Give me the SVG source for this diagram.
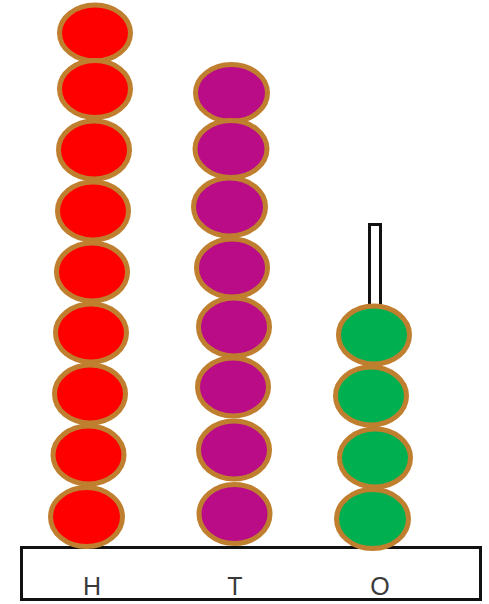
<svg xmlns="http://www.w3.org/2000/svg" width="489" height="604" viewBox="0 0 489 604">
<style>
.bead{stroke:#BF7F2E;stroke-width:5}
.r{fill:#FF0000}
.p{fill:#B90C86}
.g{fill:#00B050}
.lbl{font-family:"Liberation Sans",Arial,sans-serif;font-size:25px;fill:#3a3a3a;text-anchor:middle}
</style>
<rect width="489" height="604" fill="#fff"/>
<g id="base">
<rect x="21.5" y="547.5" width="459" height="52" fill="#fff" stroke="#111" stroke-width="3"/>
<text class="lbl" x="92" y="595">H</text>
<text class="lbl" x="235" y="595">T</text>
<text class="lbl" x="380" y="595">O</text>
</g>
<g id="rod-ones">
<rect x="369.5" y="224.5" width="11" height="84" fill="#fff" stroke="#111" stroke-width="3"/>
</g>
<g id="hundreds">
<ellipse class="bead r" cx="95" cy="33" rx="35.5" ry="28"/>
<ellipse class="bead r" cx="95" cy="89" rx="35.5" ry="28.5"/>
<ellipse class="bead r" cx="94" cy="150" rx="35.5" ry="29"/>
<ellipse class="bead r" cx="93" cy="211" rx="35.5" ry="29"/>
<ellipse class="bead r" cx="92" cy="272" rx="35.5" ry="29"/>
<ellipse class="bead r" cx="91" cy="333" rx="35.5" ry="29"/>
<ellipse class="bead r" cx="90" cy="394" rx="35.5" ry="29"/>
<ellipse class="bead r" cx="88.5" cy="455" rx="35.5" ry="29"/>
<ellipse class="bead r" cx="86.5" cy="517" rx="36" ry="29.5"/>
</g>
<g id="tens">
<ellipse class="bead p" cx="231.5" cy="93" rx="36" ry="28.5"/>
<ellipse class="bead p" cx="231" cy="149" rx="36" ry="28.5"/>
<ellipse class="bead p" cx="229.5" cy="207" rx="36" ry="29"/>
<ellipse class="bead p" cx="232" cy="268" rx="35.5" ry="29"/>
<ellipse class="bead p" cx="234" cy="327" rx="35.5" ry="29"/>
<ellipse class="bead p" cx="233" cy="387" rx="35.5" ry="29"/>
<ellipse class="bead p" cx="234" cy="450" rx="35.5" ry="29"/>
<ellipse class="bead p" cx="234.5" cy="514" rx="35.5" ry="29.5"/>
</g>
<g id="ones">
<ellipse class="bead g" cx="374" cy="335" rx="35.5" ry="29"/>
<ellipse class="bead g" cx="371" cy="396" rx="35.5" ry="29"/>
<ellipse class="bead g" cx="375" cy="458" rx="35.5" ry="29"/>
<ellipse class="bead g" cx="372.5" cy="519" rx="36" ry="29.5"/>
</g>
</svg>
